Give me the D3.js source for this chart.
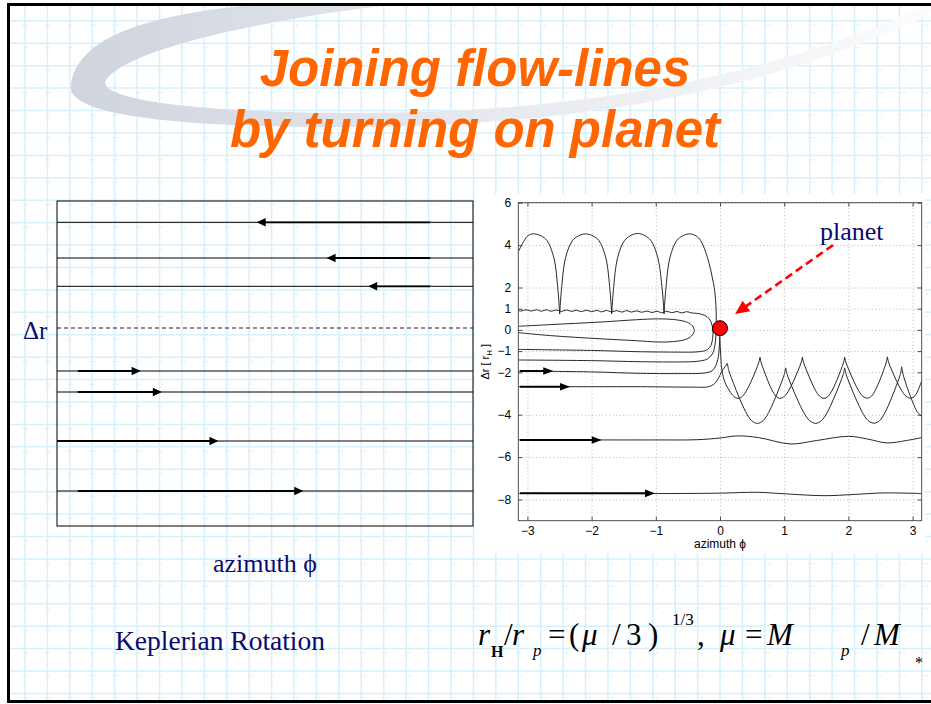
<!DOCTYPE html>
<html>
<head>
<meta charset="utf-8">
<script src="https://cdn.jsdelivr.net/npm/d3@7"></script>
<style>
  html, body { margin: 0; padding: 0; background: #fff; }
  svg { display: block; }
</style>
</head>
<body>
<svg id="slide" width="931" height="704"></svg>
<script>
// ---------------------------------------------------------------
// Data
// ---------------------------------------------------------------

// Title lines
const titleLines = ["Joining flow-lines", "by turning on planet"];

// Left schematic: unperturbed Keplerian shear flow (arbitrary Δr units, 0 = corotation)
const keplerLevels     = [10.57, 7.0, 4.17, -4.3, -6.4, -11.3, -16.3];
const keplerArrowTips  = [0.48, 0.648, 0.748, 0.201, 0.252, 0.388, 0.592];
const keplerShaftStart = [0.897, 0.897, 0.897, 0.05, 0.05, 0.0, 0.05];

// Right panel: streamlines around the planet, points are [azimuth φ, Δr in r_H].
// Each streamline is a list of pieces; pieces meet at cusps.
const xTicks = [-3, -2, -1, 0, 1, 2, 3];
const yTicks = [-8, -6, -4, -2, -1, 0, 1, 2, 4, 6];

// flow coming in below the planet, passing over it and leaving in loops above
const loopFlow = [
  [[-3.1416,-1.42],[-2.0,-1.45],[-1.24,-1.50],[-0.6,-1.51],[-0.35,-1.48],[-0.196,-1.37],[-0.118,-1.13],
   [-0.078,-0.70],[-0.062,-0.1],[-0.06,0.9],[-0.083,1.85],[-0.115,2.4],[-0.196,3.42],[-0.30,4.21],
   [-0.37,4.43],[-0.467,4.53],[-0.58,4.44],[-0.674,4.21],[-0.779,3.42],[-0.846,1.85],[-0.872,0.75]],
  [[-0.872,0.75],[-0.898,1.85],[-0.970,3.42],[-1.075,4.21],[-1.167,4.44],[-1.282,4.55],[-1.397,4.44],
   [-1.489,4.21],[-1.594,3.42],[-1.661,1.85],[-1.687,0.75]],
  [[-1.687,0.75],[-1.713,1.85],[-1.780,3.42],[-1.885,4.21],[-1.977,4.43],[-2.092,4.53],[-2.207,4.43],
   [-2.299,4.21],[-2.404,3.42],[-2.471,1.85],[-2.497,0.75]],
  [[-2.497,0.75],[-2.523,1.85],[-2.589,3.42],[-2.694,4.21],[-2.785,4.43],[-2.902,4.53],[-2.99,4.45],
   [-3.05,4.21],[-3.1416,3.69]]
];

// horseshoe orbit: inner line turning back into the wavy outer line
const horseshoeFlow = [
  [[-3.1416,-0.92],[-2.0,-0.97],[-1.24,-1.03],[-0.6,-1.05],[-0.456,-1.05],[-0.30,-1.02],[-0.196,-0.93],
   [-0.14,-0.72],[-0.115,-0.40],[-0.112,0.0],[-0.14,0.38],[-0.20,0.62],[-0.28,0.73],[-0.36,0.78],
   [-0.44,0.80],[-0.52,0.86],[-0.60,0.80],[-0.67,0.87],[-0.75,0.81],[-0.83,0.88],[-0.91,0.81],
   [-0.98,0.88],[-1.06,0.82],[-1.14,0.89],[-1.22,0.83],[-1.30,0.90],[-1.38,0.84],[-1.45,0.91],
   [-1.53,0.84],[-1.61,0.91],[-1.69,0.85],[-1.77,0.92],[-1.84,0.85],[-1.92,0.92],[-2.00,0.86],
   [-2.08,0.93],[-2.16,0.86],[-2.24,0.93],[-2.31,0.87],[-2.39,0.94],[-2.47,0.87],[-2.55,0.94],
   [-2.63,0.88],[-2.71,0.95],[-2.78,0.88],[-2.86,0.95],[-2.94,0.89],[-3.02,0.95],[-3.10,0.89],
   [-3.1416,0.92]]
];

// closed tadpole orbit in front of the planet
const tadpoleFlow = [
  [[-3.1416,0.17],[-2.64,0.25],[-1.86,0.37],[-1.3,0.48],[-0.975,0.52],[-0.72,0.49],[-0.51,0.36],
   [-0.43,0.19],[-0.40,-0.03],[-0.43,-0.24],[-0.51,-0.42],[-0.72,-0.55],[-0.975,-0.57],[-1.3,-0.51],
   [-1.86,-0.42],[-2.64,-0.27],[-3.1416,-0.13]]
];

// inner line rising to the planet and leaving in shallow scallops
const shallowFlow = [
  [[-3.1416,-1.94],[-2.0,-1.98],[-1.24,-2.05],[-0.5,-2.06],[-0.30,-2.05],[-0.16,-1.98],[-0.093,-1.84],
   [-0.035,-1.4],[-0.014,-0.95],[-0.004,-0.30]],
  [[-0.004,-0.30],[0.008,-1.0],[0.03,-1.9],[0.08,-2.5],[0.15,-2.88],[0.214,-3.13],[0.28,-3.23],
   [0.349,-3.13],[0.417,-2.84],[0.486,-2.42],[0.555,-1.93],[0.606,-1.52],[0.623,-1.29]],
  [[0.623,-1.29],[0.639,-1.52],[0.686,-1.93],[0.748,-2.42],[0.81,-2.84],[0.873,-3.13],[0.935,-3.23],
   [1.005,-3.13],[1.074,-2.84],[1.144,-2.42],[1.214,-1.93],[1.266,-1.52],[1.283,-1.29]],
  [[1.283,-1.29],[1.30,-1.52],[1.351,-1.93],[1.418,-2.42],[1.485,-2.84],[1.553,-3.13],[1.62,-3.23],
   [1.684,-3.13],[1.749,-2.84],[1.813,-2.42],[1.878,-1.93],[1.926,-1.52],[1.942,-1.29]],
  [[1.942,-1.29],[1.96,-1.52],[2.013,-1.93],[2.084,-2.42],[2.154,-2.84],[2.225,-3.13],[2.296,-3.22],
   [2.358,-3.13],[2.42,-2.84],[2.483,-2.42],[2.545,-1.93],[2.591,-1.52],[2.607,-1.27]],
  [[2.607,-1.27],[2.625,-1.52],[2.68,-1.93],[2.752,-2.42],[2.825,-2.84],[2.897,-3.13],[2.97,-3.22],
   [3.04,-3.10],[3.1416,-2.40]]
];

// next line inward, scattered into deep scallops
const deepFlow = [
  [[-3.1416,-2.68],[-2.0,-2.68],[-1.24,-2.68],[-0.4,-2.70],[-0.196,-2.69],[-0.09,-2.55],[-0.04,-2.36],
   [0.037,-1.92],[0.115,-1.58]],
  [[0.115,-1.58],[0.138,-1.92],[0.209,-2.51],[0.302,-3.22],[0.396,-3.84],[0.489,-4.27],[0.583,-4.41],
   [0.671,-4.28],[0.759,-3.89],[0.847,-3.31],[0.935,-2.65],[1.001,-2.10],[1.023,-1.79]],
  [[1.023,-1.79],[1.046,-2.10],[1.116,-2.65],[1.21,-3.31],[1.303,-3.89],[1.397,-4.28],[1.49,-4.41],
   [1.58,-4.28],[1.671,-3.89],[1.761,-3.31],[1.852,-2.65],[1.919,-2.10],[1.942,-1.79]],
  [[1.942,-1.79],[1.965,-2.10],[2.034,-2.65],[2.125,-3.31],[2.217,-3.89],[2.308,-4.28],[2.40,-4.40],
   [2.486,-4.28],[2.572,-3.89],[2.658,-3.31],[2.744,-2.65],[2.809,-2.10],[2.83,-1.74]],
  [[2.83,-1.74],[2.852,-2.10],[2.92,-2.75],[3.0,-3.4],[3.07,-3.85],[3.1416,-4.09]]
];

// distant lines, only weakly perturbed
const waveFlow = [
  [[-3.1416,-5.19],[-2.0,-5.19],[-1.0,-5.19],[-0.36,-5.18],[0.0,-5.10],[0.27,-5.00],[0.6,-5.08],
   [1.1,-5.38],[1.5,-5.22],[2.0,-5.02],[2.3,-5.15],[2.6,-5.33],[2.9,-5.22],[3.1416,-5.08]]
];
const farFlow = [
  [[-3.1416,-7.71],[-1.0,-7.72],[0.0,-7.70],[0.58,-7.66],[1.0,-7.73],[1.62,-7.82],[2.1,-7.76],
   [2.55,-7.69],[3.1416,-7.72]]
];

const flows = [loopFlow, horseshoeFlow, tadpoleFlow, shallowFlow, deepFlow, waveFlow, farFlow];

// flow-direction arrows on the incoming lines: [Δr, φ of the arrow tip]
const flowArrowLevels = [-1.94, -2.68, -5.19, -7.71];
const flowArrowTips   = [-2.597, -2.336, -1.843, -1.012];
const flowArrowStart  = -3.115;

// planet and its annotation
const planetPos   = [0.0, 0.08];
const pointerFrom = [1.76, 4.0];
const pointerTo   = [0.234, 0.75];
const planetLabelPos = [1.558, 4.24];

// ---------------------------------------------------------------
// Drawing
// ---------------------------------------------------------------
const W = 931, H = 704;
const NAVY = "#0b0b6e";
const svg = d3.select("#slide");
const defs = svg.append("defs");

// slide background: graph-paper grid
const slideClip = defs.append("clipPath").attr("id", "slideClip");
slideClip.append("rect").attr("x", 10).attr("y", 6).attr("width", W).attr("height", 694);

const paper = svg.append("g").attr("clip-path", "url(#slideClip)");
const step = 22.42;
for (let x = 25 - step; x < W + step; x += step) {
  paper.append("line").attr("x1", x).attr("x2", x).attr("y1", 0).attr("y2", H)
    .attr("stroke", "#d6f0fc").attr("stroke-width", 1.5);
}
for (let y = 65.7 - 3 * step; y < H + step; y += step) {
  paper.append("line").attr("x1", 0).attr("x2", W).attr("y1", y).attr("y2", y)
    .attr("stroke", "#d6f0fc").attr("stroke-width", 1.5);
  paper.append("line").attr("x1", 0).attr("x2", W).attr("y1", y + 4.5).attr("y2", y + 4.5)
    .attr("stroke", "#d8eef8").attr("stroke-width", 1.1)
    .attr("stroke-dasharray", "2,1.5,2,17");
}

// decorative swoosh behind the title
const grad = defs.append("linearGradient").attr("id", "swooshGrad")
  .attr("gradientUnits", "userSpaceOnUse")
  .attr("x1", 70).attr("y1", 0).attr("x2", 931).attr("y2", 0);
grad.append("stop").attr("offset", 0).attr("stop-color", "#cfd4dd");
grad.append("stop").attr("offset", 0.4).attr("stop-color", "#e3e6ec");
grad.append("stop").attr("offset", 0.8).attr("stop-color", "#f3f4f7");
grad.append("stop").attr("offset", 1).attr("stop-color", "#fcfcfd");
paper.append("path")
  .attr("fill", "url(#swooshGrad)")
  .attr("fill-rule", "evenodd")
  .attr("d",
    "M 340,0 C 170,5 78,30 71,85 C 64,118 200,128 360,127 C 560,126 760,95 931,14 L 931,0 Z " +
    "M 440,0 C 300,12 130,45 106,80 C 95,100 200,113 360,113 C 560,113 760,83 931,3 L 931,0 Z");

// slide frame
svg.append("path")
  .attr("d", "M 940,4.5 L 8.5,4.5 L 8.5,701.5 L 940,701.5")
  .attr("fill", "none").attr("stroke", "#000").attr("stroke-width", 3);

// title
svg.append("g")
  .attr("font-family", "'Liberation Sans', Arial, sans-serif")
  .attr("font-weight", "bold").attr("font-style", "italic")
  .attr("font-size", 51).attr("fill", "#ff6600").attr("text-anchor", "middle")
  .selectAll("text").data(titleLines).join("text")
  .attr("x", 475).attr("y", (d, i) => 86 + i * 61)
  .text(d => d);

// ---------------- left: Keplerian rotation schematic ----------------
const xK = d3.scaleLinear().domain([0, 1]).range([57, 473]);
const yK = d3.scaleLinear().domain([-19.8, 12.7]).range([526, 201]);
const gK = svg.append("g");

gK.append("rect").attr("x", xK(0)).attr("y", yK(12.7))
  .attr("width", xK(1) - xK(0)).attr("height", yK(-19.8) - yK(12.7))
  .attr("fill", "none").attr("stroke", "#000").attr("stroke-width", 1);

gK.append("line").attr("x1", xK(0)).attr("x2", xK(1)).attr("y1", yK(0)).attr("y2", yK(0))
  .attr("stroke", "#000").attr("stroke-width", 0.9).attr("stroke-dasharray", "4,3");

keplerLevels.forEach((lv, i) => {
  const y = yK(lv);
  const dir = lv > 0 ? -1 : 1;
  const tip = xK(keplerArrowTips[i]);
  gK.append("line").attr("x1", xK(0)).attr("x2", xK(1)).attr("y1", y).attr("y2", y)
    .attr("stroke", "#000").attr("stroke-width", 1);
  gK.append("line").attr("x1", xK(keplerShaftStart[i])).attr("x2", tip - dir * 6)
    .attr("y1", y).attr("y2", y).attr("stroke", "#000").attr("stroke-width", 1.8);
  gK.append("path")
    .attr("d", `M${tip},${y} L${tip - dir * 9},${y - 4.2} L${tip - dir * 9},${y + 4.2} Z`)
    .attr("fill", "#000");
});

svg.append("text").attr("x", 23).attr("y", 339)
  .attr("font-family", "'Liberation Serif', 'Times New Roman', serif")
  .attr("font-size", 25).attr("fill", NAVY).text("Δr");
svg.append("text").attr("x", 213).attr("y", 572)
  .attr("font-family", "'Liberation Serif', 'Times New Roman', serif")
  .attr("font-size", 26).attr("fill", NAVY).text("azimuth ϕ");
svg.append("text").attr("x", 115).attr("y", 650)
  .attr("font-family", "'Liberation Serif', 'Times New Roman', serif")
  .attr("font-size", 27.5).attr("fill", NAVY).text("Keplerian Rotation");

// ---------------- right: streamlines around the planet ----------------
svg.append("rect").attr("x", 475).attr("y", 194).attr("width", 450).attr("height", 359)
  .attr("fill", "#fff");

const xR = d3.scaleLinear().domain([-Math.PI, Math.PI]).range([518.3, 921.7]);
const yR = d3.scaleLinear().domain([-9, 6]).range([520.7, 202.7]);
const [px0, px1] = xR.range();
const [py1, py0] = yR.range();
const gR = svg.append("g").attr("font-family", "'Liberation Sans', Arial, sans-serif");

defs.append("clipPath").attr("id", "axClip")
  .append("rect").attr("x", px0).attr("y", py0).attr("width", px1 - px0).attr("height", py1 - py0);

// dotted grid
gR.append("g").attr("transform", `translate(0,${py1})`)
  .call(d3.axisBottom(xR).tickValues(xTicks).tickSize(-(py1 - py0)).tickFormat(""))
  .call(g => g.select(".domain").remove())
  .call(g => g.selectAll(".tick line").attr("stroke", "#b5b5b5").attr("stroke-dasharray", "1,2.5"));
gR.append("g").attr("transform", `translate(${px0},0)`)
  .call(d3.axisLeft(yR).tickValues(yTicks).tickSize(-(px1 - px0)).tickFormat(""))
  .call(g => g.select(".domain").remove())
  .call(g => g.selectAll(".tick line").attr("stroke", "#b5b5b5").attr("stroke-dasharray", "1,2.5"));

// streamlines
const line = d3.line().x(d => xR(d[0])).y(d => yR(d[1])).curve(d3.curveCatmullRom.alpha(0.5));
const gFlow = gR.append("g").attr("clip-path", "url(#axClip)");
flows.forEach(flow => {
  gFlow.append("path")
    .attr("d", flow.map(piece => line(piece)).join(" "))
    .attr("fill", "none").attr("stroke", "#1e1e1e").attr("stroke-width", 0.95)
    .attr("stroke-linejoin", "miter");
});

// direction arrows on incoming lines
flowArrowLevels.forEach((lv, i) => {
  const y = yR(lv), tip = xR(flowArrowTips[i]);
  gR.append("line").attr("x1", xR(flowArrowStart)).attr("x2", tip - 7).attr("y1", y).attr("y2", y)
    .attr("stroke", "#000").attr("stroke-width", 2);
  gR.append("path").attr("d", `M${tip},${y} L${tip - 10},${y - 3.8} L${tip - 10},${y + 3.8} Z`)
    .attr("fill", "#000");
});

// axes box with inward ticks
gR.append("rect").attr("x", px0).attr("y", py0).attr("width", px1 - px0).attr("height", py1 - py0)
  .attr("fill", "none").attr("stroke", "#3c3c3c").attr("stroke-width", 0.9);
const fmt = d3.format("d");
const styleAxis = g => {
  g.attr("font-family", null).attr("font-size", 12);
  g.select(".domain").remove();
  g.selectAll(".tick line").attr("stroke", "#3c3c3c").attr("stroke-width", 0.9);
  g.selectAll(".tick text").attr("fill", "#000");
};
gR.append("g").attr("transform", `translate(0,${py1})`)
  .call(d3.axisBottom(xR).tickValues(xTicks).tickFormat(fmt).tickSizeInner(-4).tickSizeOuter(0).tickPadding(6))
  .call(styleAxis);
gR.append("g").attr("transform", `translate(0,${py0})`)
  .call(d3.axisTop(xR).tickValues(xTicks).tickSizeInner(-4).tickSizeOuter(0).tickFormat(""))
  .call(styleAxis);
gR.append("g").attr("transform", `translate(${px0},0)`)
  .call(d3.axisLeft(yR).tickValues(yTicks).tickFormat(fmt).tickSizeInner(-4).tickSizeOuter(0).tickPadding(7))
  .call(styleAxis);
gR.append("g").attr("transform", `translate(${px1},0)`)
  .call(d3.axisRight(yR).tickValues(yTicks).tickSizeInner(-4).tickSizeOuter(0).tickFormat(""))
  .call(styleAxis);

// axis titles
gR.append("text").attr("x", (px0 + px1) / 2).attr("y", 548).attr("text-anchor", "middle")
  .attr("font-size", 12).attr("fill", "#000").text("azimuth ϕ");
const yl = gR.append("text")
  .attr("transform", `translate(489,${(py0 + py1) / 2}) rotate(-90)`)
  .attr("text-anchor", "middle").attr("font-size", 11).attr("fill", "#000");
yl.append("tspan").text("Δr [ r");
yl.append("tspan").attr("font-size", 8).attr("dy", 3).text("H");
yl.append("tspan").attr("dy", -3).text(" ]");

// planet
gR.append("circle").attr("cx", xR(planetPos[0])).attr("cy", yR(planetPos[1])).attr("r", 7.5)
  .attr("fill", "#ff0000").attr("stroke", "#000").attr("stroke-width", 1);

// pointer to the planet
{
  const x1 = xR(pointerFrom[0]), y1 = yR(pointerFrom[1]);
  const x2 = xR(pointerTo[0]), y2 = yR(pointerTo[1]);
  const len = Math.hypot(x2 - x1, y2 - y1);
  const ux = (x2 - x1) / len, uy = (y2 - y1) / len;
  const hl = 14, hw = 6.5;
  const bx = x2 - ux * hl, by = y2 - uy * hl;
  gR.append("line").attr("x1", x1).attr("y1", y1).attr("x2", bx + ux * 2).attr("y2", by + uy * 2)
    .attr("stroke", "#ff0000").attr("stroke-width", 2.6).attr("stroke-dasharray", "8,4.5");
  gR.append("path")
    .attr("d", `M${x2},${y2} L${bx - uy * hw},${by + ux * hw} L${bx + uy * hw},${by - ux * hw} Z`)
    .attr("fill", "#ff0000");
}
svg.append("text").attr("x", xR(planetLabelPos[0])).attr("y", yR(planetLabelPos[1]))
  .attr("font-family", "'Liberation Serif', 'Times New Roman', serif")
  .attr("font-size", 26).attr("fill", NAVY).text("planet");

// ---------------- Hill radius formula ----------------
const formula = [
  { t: "r",   x: 478, y: 645, s: 31, it: true },
  { t: "H",   x: 491, y: 657, s: 16, b: true },
  { t: "/",   x: 504, y: 645, s: 31 },
  { t: "r",   x: 512, y: 645, s: 31, it: true },
  { t: "p",   x: 533, y: 656, s: 17, it: true },
  { t: "=",   x: 548, y: 645, s: 31 },
  { t: "(",   x: 569, y: 645, s: 31 },
  { t: "μ",   x: 582, y: 645, s: 31, it: true },
  { t: "/",   x: 612, y: 645, s: 31 },
  { t: "3",   x: 626, y: 645, s: 31 },
  { t: ")",   x: 648, y: 645, s: 31 },
  { t: "1/3", x: 672, y: 625, s: 17 },
  { t: ",",   x: 697, y: 645, s: 31 },
  { t: "μ",   x: 720, y: 645, s: 31, it: true },
  { t: "=",   x: 745, y: 645, s: 31 },
  { t: "M",   x: 767, y: 645, s: 31, it: true },
  { t: "p",   x: 841, y: 656, s: 17, it: true },
  { t: "/",   x: 861, y: 645, s: 31 },
  { t: "M",   x: 874, y: 645, s: 31, it: true },
  { t: "*",   x: 915, y: 668, s: 16 }
];
svg.append("g")
  .attr("font-family", "'Liberation Serif', 'Times New Roman', serif").attr("fill", "#000")
  .selectAll("text").data(formula).join("text")
  .attr("x", d => d.x).attr("y", d => d.y).attr("font-size", d => d.s)
  .attr("font-style", d => d.it ? "italic" : "normal")
  .attr("font-weight", d => d.b ? "bold" : "normal")
  .text(d => d.t);
</script>
</body>
</html>
